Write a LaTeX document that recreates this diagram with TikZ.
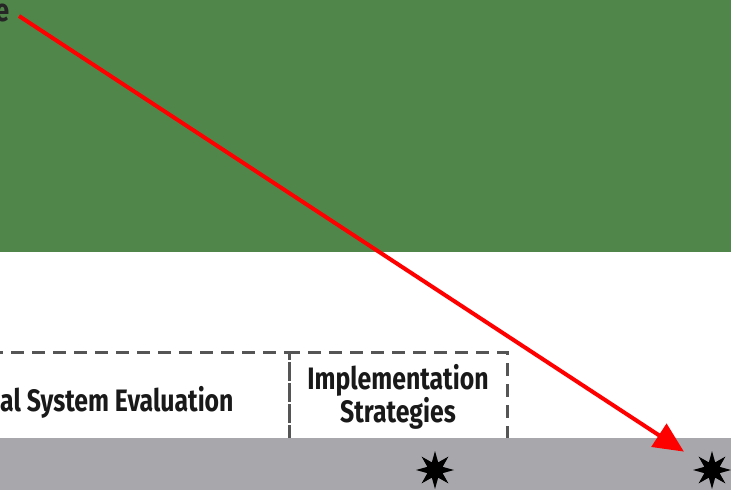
\documentclass[tikz,border=0pt]{standalone}
\usepackage{fontspec}
\setsansfont{Fira Sans}[FakeStretch=0.8]
\usetikzlibrary{arrows.meta,shapes.geometric}
\definecolor{fieldgreen}{RGB}{80,134,74}
\definecolor{bandgray}{RGB}{167,167,172}
\definecolor{dashgray}{RGB}{85,85,85}

\begin{document}
\begin{tikzpicture}[x=1pt,y=-1pt]
\tikzstyle{every node}+=[inner sep=0pt]
\tikzstyle{phase}=[dashgray, line width=3pt, dash pattern=on 13pt off 8pt]
\tikzstyle{phaselabel}=[font=\sffamily\bfseries\fontsize{31}{33}\selectfont, align=center, text=black!90]
\tikzstyle{milestone}=[star, star points=8, star point ratio=2.3, fill=black, minimum size=38pt]
\useasboundingbox (0,0) rectangle (731,490);
\clip (0,0) rectangle (731,490);
% backgrounds
\fill [fieldgreen] (0,0) rectangle (731,252);
\fill [bandgray] (0,438) rectangle (731,490);
% phase boxes
\draw [phase] (-10,352) -- (289,352) -- (289,438);
\draw [phase] (289,438) -- (289,352) -- (507,352) -- (507,438);
\node [phaselabel, anchor=west] (evaluation) at (0,402) {al System Evaluation};
\node [phaselabel] (strategies) at (398,397) {Implementation\\Strategies};
% milestones
\node [milestone] (star1) at (435,470) {};
\node [milestone] (star2) at (712,470) {};
% pointer
\node [font=\sffamily\bfseries\fontsize{32}{34}\selectfont, text=black!85, anchor=east] (tail) at (10,13) {e};
\coordinate (src) at (19,16);
\draw [red, line width=4pt, shorten >=22pt, -{Triangle[length=30pt,width=27pt]}] (src) -- (star2);
\end{tikzpicture}
\end{document}
